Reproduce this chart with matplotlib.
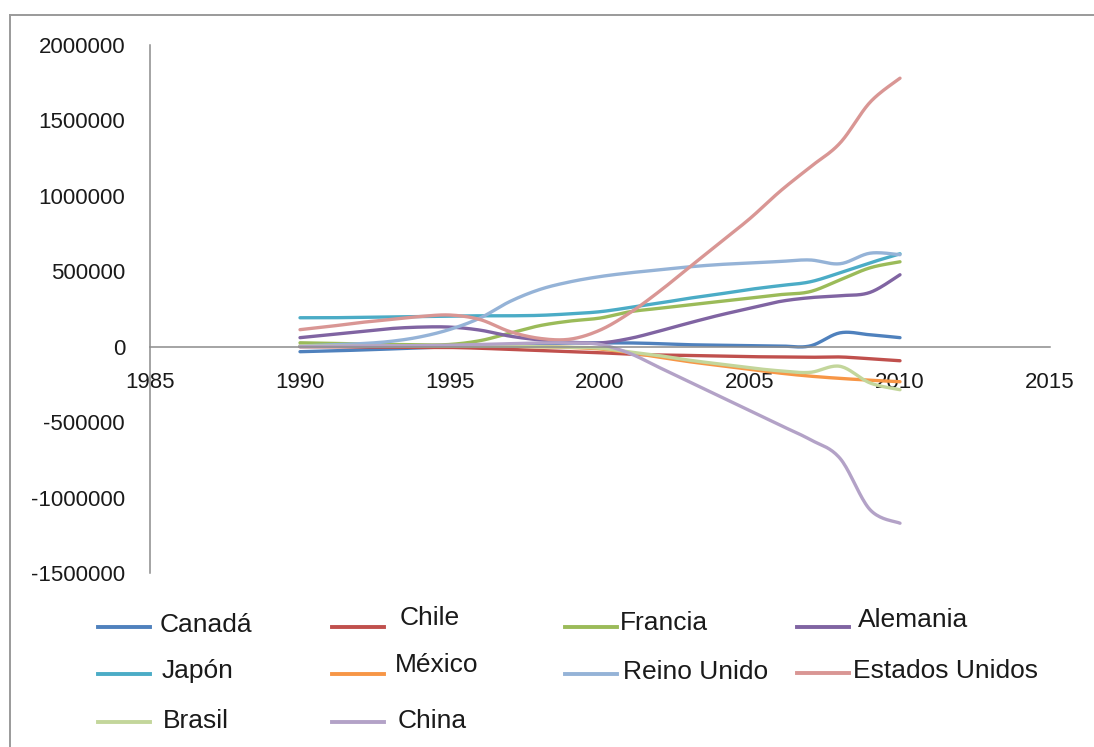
import numpy as np
import matplotlib
matplotlib.use("Agg")
import matplotlib.pyplot as plt
from matplotlib.lines import Line2D
from matplotlib.ticker import FuncFormatter

plt.rcParams["font.family"] = ["Liberation Sans", "DejaVu Sans"]

# ---- data -------------------------------------------------------------
years = [1990, 1991, 1992, 1993, 1994, 1995, 1996, 1997, 1998, 1999, 2000,
         2001, 2002, 2003, 2004, 2005, 2006, 2007, 2008, 2009, 2010]

canada = [-33000, -28000, -22000, -15000, -8000, 0, 8000, 15000, 20000, 25000, 25000,
          25000, 20000, 13000, 10000, 7000, 5000, 5000, 92000, 79000, 60000]
chile = [0, 0, -2000, -3000, -5000, -5000, -10000, -18000, -25000, -33000, -40000,
         -50000, -55000, -58000, -62000, -66000, -68000, -70000, -68000, -80000, -93000]
francia = [26000, 22000, 18000, 15000, 12000, 15000, 40000, 90000, 140000, 170000, 190000,
           232000, 255000, 278000, 300000, 322000, 345000, 365000, 443000, 523000, 563000]
alemania = [60000, 80000, 100000, 120000, 130000, 130000, 110000, 70000, 45000, 30000, 25000,
            55000, 105000, 159000, 210000, 255000, 300000, 325000, 338000, 360000, 477000]
japon = [192000, 192000, 195000, 198000, 200000, 203000, 205000, 205000, 208000, 218000, 232000,
         260000, 290000, 322000, 350000, 380000, 405000, 430000, 490000, 556000, 616000]
mexico = [5000, 5000, 5000, 5000, 5000, 5000, 5000, 3000, 0, -5000, -15000,
          -40000, -70000, -100000, -125000, -150000, -175000, -195000, -210000, -222000, -232000]
reino_unido = [5000, 12000, 20000, 35000, 65000, 115000, 190000, 300000, 380000, 430000, 465000,
               490000, 510000, 530000, 545000, 555000, 565000, 575000, 550000, 620000, 610000]
estados_unidos = [113000, 135000, 160000, 180000, 200000, 210000, 180000, 100000, 55000, 50000, 110000,
                  225000, 370000, 530000, 690000, 850000, 1030000, 1190000, 1350000, 1620000, 1780000]
brasil = [5000, 5000, 5000, 5000, 5000, 5000, 5000, 3000, 0, -3000, -10000,
          -35000, -60000, -90000, -115000, -140000, -160000, -170000, -130000, -240000, -285000]
china = [0, 2000, 5000, 5000, 8000, 10000, 15000, 20000, 25000, 25000, 15000,
         -45000, -140000, -235000, -330000, -425000, -520000, -615000, -740000, -1080000, -1170000]

labels = ["Canadá", "Chile", "Francia", "Alemania", "Japón", "México",
          "Reino Unido", "Estados Unidos", "Brasil", "China"]
series = [canada, chile, francia, alemania, japon, mexico,
          reino_unido, estados_unidos, brasil, china]
colors = ["#4F81BD", "#C0504D", "#9BBB59", "#8064A2", "#4BACC6", "#F79646",
          "#95B3D7", "#D99694", "#C3D69B", "#B3A2C7"]

x_ticks = [1985, 1990, 1995, 2000, 2005, 2010, 2015]
y_ticks = [-1500000, -1000000, -500000, 0, 500000, 1000000, 1500000, 2000000]


def smooth_curve(x, y, steps=20):
    """Bezier smoothing through every point (control arms = 1/6 of neighbour span)."""
    p = np.column_stack([np.asarray(x, float), np.asarray(y, float)])
    ext = np.vstack([p[0], p, p[-1]])
    out = []
    t = np.linspace(0, 1, steps, endpoint=False)[:, None]
    for i in range(len(p) - 1):
        p0, p3 = ext[i + 1], ext[i + 2]
        c1 = p0 + (ext[i + 2] - ext[i]) / 6.0
        c2 = p3 - (ext[i + 3] - ext[i + 1]) / 6.0
        seg = ((1 - t) ** 3) * p0 + 3 * ((1 - t) ** 2) * t * c1 + 3 * (1 - t) * t ** 2 * c2 + t ** 3 * p3
        out.append(seg)
    out.append(p[-1][None, :])
    out = np.vstack(out)
    return out[:, 0], out[:, 1]


# ---- figure -------------------------------------------------------------
W, H = 1094, 747
fig = plt.figure(figsize=(W / 100, H / 100), dpi=100)
ax = fig.add_axes([150 / W, 1 - 573 / H, 900 / W, 528 / H])
ax.set_xlim(1985, 2015)
ax.set_ylim(-1500000, 2000000)

for vals, col in zip(series, colors):
    sx, sy = smooth_curve(years, vals)
    ax.plot(sx, sy, color=col, lw=2.4, solid_capstyle="round", solid_joinstyle="round")

ax.set_xticks(x_ticks)
ax.set_yticks(y_ticks)
ax.yaxis.set_major_formatter(FuncFormatter(lambda v, p: f"{int(v)}"))
ax.xaxis.set_major_formatter(FuncFormatter(lambda v, p: f"{int(v)}"))
ax.tick_params(length=0, labelsize=16, colors="#1a1a1a", pad=18)

for side in ("top", "right"):
    ax.spines[side].set_visible(False)
ax.spines["bottom"].set_position(("data", 0))
for side in ("left", "bottom"):
    ax.spines[side].set_color("#8c8c8c")
    ax.spines[side].set_linewidth(1.1)

# outer chart frame (top and left edges)
fig.add_artist(Line2D([10 / W, 10 / W], [0, 1 - 15 / H], transform=fig.transFigure,
                      color="#9a9a9a", lw=1.4))
fig.add_artist(Line2D([10 / W, 1], [1 - 15 / H, 1 - 15 / H], transform=fig.transFigure,
                      color="#9a9a9a", lw=1.4))

# legend: handle start x, handle y, text x, text y (pixels)
legend_layout = [
    (98, 627, 160, 625), (332, 627, 400, 618), (565, 627, 620, 623), (797, 627, 858, 620),
    (98, 674, 162, 671), (332, 674, 395, 665), (565, 674, 623, 672), (797, 673, 853, 671),
    (98, 722, 163, 721), (332, 722, 398, 721),
]
for (hx, hy, tx, ty), lab, col in zip(legend_layout, labels, colors):
    fig.add_artist(Line2D([hx / W, (hx + 52) / W], [1 - hy / H, 1 - hy / H],
                          transform=fig.transFigure, color=col, lw=2.8))
    fig.text(tx / W, 1 - ty / H, lab, fontsize=19, color="#1a1a1a",
             ha="left", va="center")

fig.savefig("out.png", dpi=100)
